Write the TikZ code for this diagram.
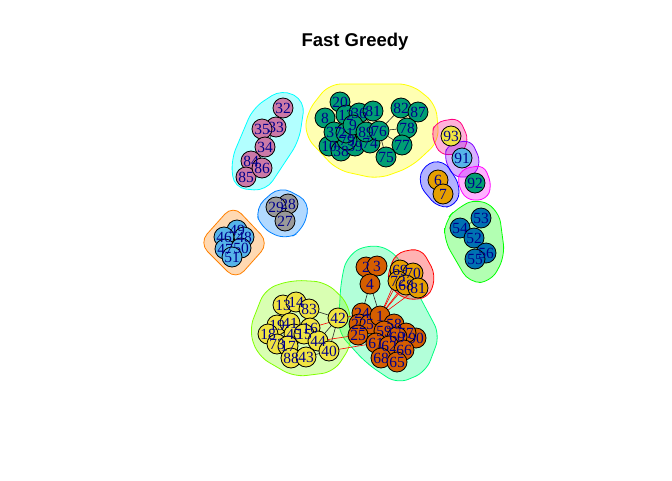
\documentclass[tikz,border=0pt]{standalone}
\usepackage{fontspec}
\setmainfont{Liberation Serif}
\newfontfamily\titlefont{Liberation Sans}
\pgfdeclarelayer{hull}\pgfdeclarelayer{edge}\pgfdeclarelayer{vert}
\pgfsetlayers{hull,edge,vert,main}
\definecolor{cG}{HTML}{009E73}
\definecolor{cP}{HTML}{CC79A7}
\definecolor{cS}{HTML}{56B4E9}
\definecolor{cA}{HTML}{999999}
\definecolor{cO}{HTML}{E69F00}
\definecolor{cY}{HTML}{F0E442}
\definecolor{cD}{HTML}{0072B2}
\definecolor{cV}{HTML}{D55E00}
\definecolor{lbc}{RGB}{0,0,139}
\definecolor{hR}{RGB}{255,0,0}
\definecolor{hO}{RGB}{255,128,0}
\definecolor{hY}{RGB}{255,255,0}
\definecolor{hC}{RGB}{128,255,0}
\definecolor{hG}{RGB}{0,255,0}
\definecolor{hS}{RGB}{0,255,128}
\definecolor{hCy}{RGB}{0,255,255}
\definecolor{hAz}{RGB}{0,128,255}
\definecolor{hB}{RGB}{0,0,255}
\definecolor{hV}{RGB}{128,0,255}
\definecolor{hM}{RGB}{255,0,255}
\definecolor{hRo}{RGB}{255,0,128}
\tikzset{
  vtx/.style={circle,draw=black,line width=0.8pt,minimum size=20pt,inner sep=0pt},
  lbl/.style={text=lbc,font=\fontsize{15.5}{15.5}\selectfont,inner sep=0pt},
  ed/.style={draw=black!85,line width=0.6pt},
  red/.style={draw=red,line width=0.6pt},
  hull/.style={draw=#1,fill=#1,fill opacity=0.3,line width=0.8pt,rounded corners=12pt}
}
\newcommand\vx[5]{%
  \begin{pgfonlayer}{vert}\node[vtx,fill=#4] (#1) at (#2,#3) {};\end{pgfonlayer}%
  \node[lbl] at (#1) {#5};}
\begin{document}
\begin{tikzpicture}[x=1pt,y=-1pt]
\useasboundingbox (0,0) rectangle (672,480);
\node[font=\titlefont\bfseries\fontsize{18.5}{18.5}\selectfont] (title) at (355,42) {Fast Greedy};
% hulls
\begin{pgfonlayer}{hull}
\draw[hull=hY] (307,112) -- (329,84) -- (411,84) -- (436,104) -- (439,141) -- (411,167) -- (378,179) -- (337,170) -- (305,136) -- cycle;
\draw[hull=hCy] (282,89) -- (305,101) -- (299,141) -- (266,191) -- (234,188) -- (231,160) -- (253,108) -- cycle;
\draw[hull=hAz] (255,208) -- (280,186) -- (310,202) -- (303,230) -- (286,240) -- (261,228) -- cycle;
\draw[hull=hO] (233,205) -- (269,243) -- (236,280) -- (199,243) -- cycle;
\draw[hull=hRo,rounded corners=8pt] (436,122) -- (459,118) -- (469,140) -- (461,154) -- (440,155) -- (431,134) -- cycle;
\draw[hull=hV,rounded corners=8pt] (448,144) -- (471,140) -- (481,162) -- (473,177) -- (453,177) -- (444,157) -- cycle;
\draw[hull=hB,rounded corners=10pt] (424,164) -- (444,160) -- (461,187) -- (456,206) -- (438,208) -- (418,184) -- cycle;
\draw[hull=hM,rounded corners=8pt] (461,169) -- (484,165) -- (492,186) -- (486,200) -- (466,200) -- (457,182) -- cycle;
\draw[hull=hG] (457,208) -- (478,198) -- (499,211) -- (505,256) -- (491,282) -- (469,283) -- (444,240) -- (445,221) -- cycle;
\draw[hull=hS] (347,256) -- (368,244) -- (393,250) -- (413,284) -- (440,335) -- (426,372) -- (397,384) -- (366,363) -- (338,332) -- (341,281) -- cycle;
\draw[hull=hR,rounded corners=10pt] (395,253) -- (421,248) -- (436,275) -- (429,298) -- (404,300) -- (386,282) -- cycle;
\draw[hull=hC] (265,289) -- (292,280) -- (326,282) -- (349,304) -- (352,344) -- (334,372) -- (294,377) -- (258,356) -- (249,330) -- cycle;
\end{pgfonlayer}
% green top cluster
\vx{g20}{340}{102}{cG}{20}
\vx{g8}{325}{118}{cG}{8}
\vx{g12}{346}{115}{cG}{12}
\vx{g36}{359}{113}{cG}{36}
\vx{g81}{373}{111}{cG}{81}
\vx{g82}{401}{108}{cG}{82}
\vx{g87}{418}{112}{cG}{87}
\vx{g10}{329}{146}{cG}{10}
\vx{g38}{341}{151}{cG}{38}
\vx{g39}{355}{146}{cG}{39}
\vx{g79}{347}{140}{cG}{79}
\vx{g37}{334}{132}{cG}{37}
\vx{g21}{346}{133}{cG}{21}
\vx{g9}{353}{125}{cG}{9}
\vx{g74}{370}{143}{cG}{74}
\vx{g89}{366}{132}{cG}{89}
\vx{g76}{379}{131}{cG}{76}
\vx{g78}{407}{128}{cG}{78}
\vx{g77}{402}{145}{cG}{77}
\vx{g75}{386}{157}{cG}{75}
% pink
\vx{p32}{283}{108}{cP}{32}
\vx{p33}{276}{127}{cP}{33}
\vx{p35}{262}{129}{cP}{35}
\vx{p34}{265}{147}{cP}{34}
\vx{p84}{251}{161}{cP}{84}
\vx{p85}{246}{177}{cP}{85}
\vx{p86}{262}{168}{cP}{86}
% gray
\vx{a28}{288}{204}{cA}{28}
\vx{a29}{276}{207}{cA}{29}
\vx{a27}{285}{221}{cA}{27}
% sky blue
\vx{b49}{237}{230}{cS}{49}
\vx{b46}{224}{237}{cS}{46}
\vx{b48}{244}{237}{cS}{48}
\vx{b47}{225}{249}{cS}{47}
\vx{b50}{241}{248}{cS}{50}
\vx{b51}{232}{257}{cS}{51}
% singles
\vx{y93}{451}{136}{cY}{93}
\vx{b91}{462}{158}{cS}{91}
\vx{g92}{475}{183}{cG}{92}
\vx{o6}{438}{180}{cO}{6}
\vx{o7}{443}{194}{cO}{7}
% blue
\vx{d53}{481}{218}{cD}{53}
\vx{d54}{460}{228}{cD}{54}
\vx{d52}{474}{238}{cD}{52}
\vx{d56}{486}{253}{cD}{56}
\vx{d55}{475}{259}{cD}{55}
% orange group
\vx{o69}{400}{270}{cO}{69}
\vx{o70}{413}{273}{cO}{70}
\vx{o72}{398}{281}{cO}{72}
\vx{o68}{406}{285}{cO}{68}
\vx{o81}{418}{288}{cO}{81}
% vermillion
\vx{v2}{366}{267}{cV}{2}
\vx{v3}{377}{266}{cV}{3}
\vx{v4}{370}{284}{cV}{4}
\vx{v24}{362}{313}{cV}{24}
\vx{v22}{359}{324}{cV}{22}
\vx{v5}{370}{324}{cV}{5}
\vx{v1}{380}{316}{cV}{1}
\vx{v25}{358}{335}{cV}{25}
\vx{v58}{394}{324}{cV}{58}
\vx{v90}{416}{338}{cV}{90}
\vx{v59}{384}{331}{cV}{59}
\vx{v57}{406}{333}{cV}{57}
\vx{v60}{397}{337}{cV}{60}
\vx{v61}{376}{343}{cV}{61}
\vx{v62}{389}{346}{cV}{62}
\vx{v66}{404}{350}{cV}{66}
\vx{v68}{381}{358}{cV}{68}
\vx{v65}{397}{362}{cV}{65}
% yellow cluster
\vx{y13}{283}{305}{cY}{13}
\vx{y14}{296}{302}{cY}{14}
\vx{y83}{309}{309}{cY}{83}
\vx{y42}{338}{318}{cY}{42}
\vx{y19}{277}{325}{cY}{19}
\vx{y41}{290}{323}{cY}{41}
\vx{y18}{268}{334}{cY}{18}
\vx{y16}{310}{328}{cY}{16}
\vx{y45}{294}{334}{cY}{45}
\vx{y15}{304}{334}{cY}{15}
\vx{y73}{277}{344}{cY}{73}
\vx{y17}{288}{346}{cY}{17}
\vx{y44}{318}{341}{cY}{44}
\vx{y40}{329}{351}{cY}{40}
\vx{y88}{291}{358}{cY}{88}
\vx{y43}{306}{357}{cY}{43}
% edges
\begin{pgfonlayer}{edge}
\foreach \a/\b in {g20/g12,g8/g37,g8/g12,g12/g36,g36/g81,g81/g76,g36/g76,g89/g76,g76/g82,g76/g78,g76/g77,g82/g78,g87/g78,g78/g77,g75/g76,g75/g74,g74/g76,g37/g21,g21/g9,g9/g89,g10/g37,g38/g79,g39/g74,g79/g21,g39/g89,g10/g38,
  p32/p33,p33/p35,p33/p34,p34/p84,p84/p86,p86/p85,p84/p85,
  a29/a28,a28/a27,a29/a27,
  b49/b46,b49/b48,b46/b47,b47/b50,b50/b51,b48/b50,
  o6/o7,
  d53/d54,d53/d52,d54/d52,d52/d56,d56/d55,d52/d55,
  o69/o70,o69/o72,o72/o68,o68/o81,o70/o81,
  v2/v4,v3/v4,v2/v3,v4/v24,v4/v1,v24/v1,v24/v22,v22/v5,v1/v58,v5/v59,v25/v61,v59/v60,v60/v90,v61/v62,v62/v66,v66/v65,v68/v65,v62/v68,v58/v57,v57/v90,v1/v59,v24/v25,
  y13/y14,y14/y83,y83/y42,y42/y44,y42/y40,y44/y40,y16/y44,y15/y44,y43/y40,y88/y43,y19/y41,y41/y16,y18/y19,y73/y17,y83/y16,y13/y19,y45/y15,y17/y88,y44/y43}
  \draw[ed] (\a) -- (\b);
\foreach \a/\b in {o69/v1,o72/v1,o68/v1,o81/v1,o70/v1,y16/v24,y44/v25,y40/v61}
  \draw[red] (\a.center) -- (\b.center);
\end{pgfonlayer}
\end{tikzpicture}
\end{document}
